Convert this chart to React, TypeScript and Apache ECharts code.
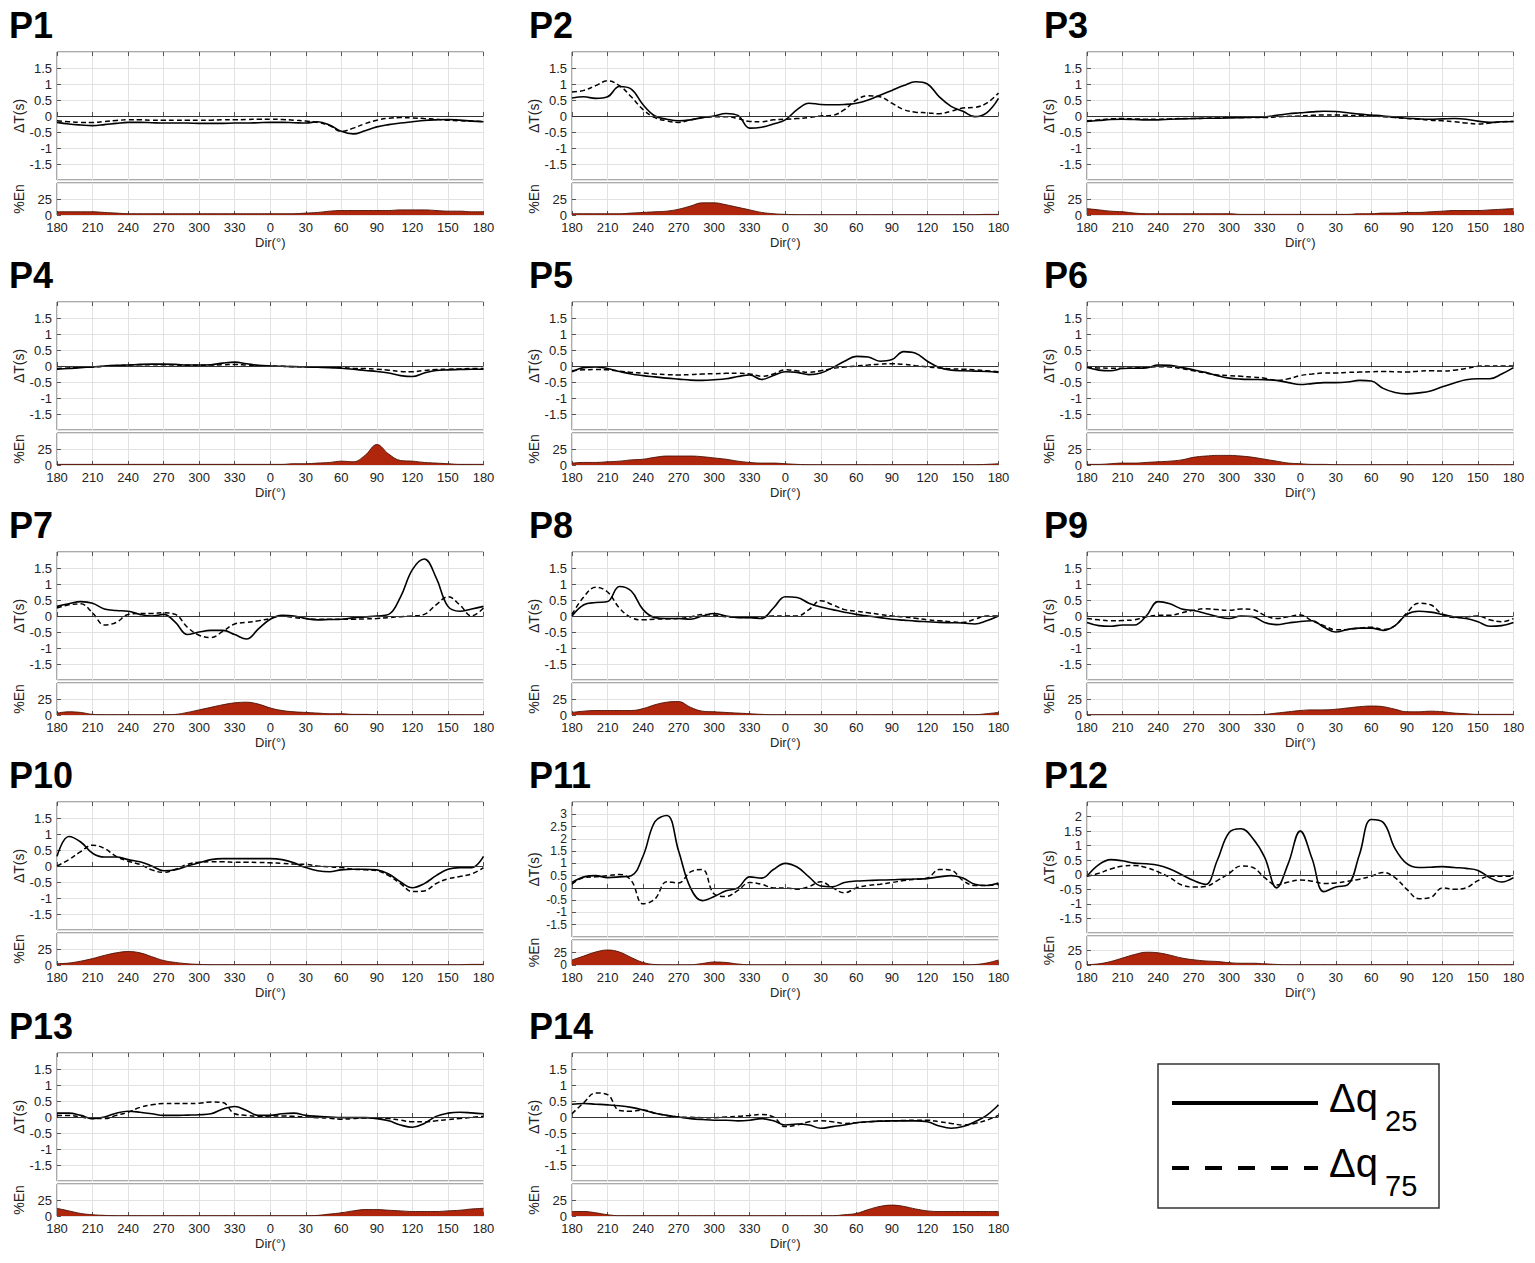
import { useEffect, useRef } from "react";
import * as echarts from "echarts";

// x positions: degrees counted from the 180° start of each panel (sample every 10°)
const OFFSETS = [
  0, 10, 20, 30, 40, 50, 60, 70, 80, 90, 100, 110, 120, 130, 140, 150, 160, 170,
  180, 190, 200, 210, 220, 230, 240, 250, 260, 270, 280, 290, 300, 310, 320, 330,
  340, 350, 360,
];
const DIR_TICKS = ["180", "210", "240", "270", "300", "330", "0", "30", "60", "90", "120", "150", "180"];

// dir: 180 190 200 ... 350 0 10 ... 180
const P1_Q25 = [-0.2,-0.25,-0.28,-0.3,-0.27,-0.23,-0.2,-0.2,-0.21,-0.22,-0.22,-0.22,-0.23,-0.23,-0.23,-0.22,-0.22,-0.21,-0.2,-0.2,-0.21,-0.22,-0.18,-0.28,-0.48,-0.56,-0.46,-0.34,-0.27,-0.22,-0.18,-0.14,-0.12,-0.11,-0.13,-0.16,-0.18];
const P1_Q75 = [-0.15,-0.18,-0.2,-0.2,-0.17,-0.14,-0.12,-0.12,-0.13,-0.13,-0.13,-0.13,-0.13,-0.13,-0.12,-0.12,-0.11,-0.1,-0.1,-0.11,-0.13,-0.16,-0.2,-0.3,-0.48,-0.38,-0.24,-0.13,-0.07,-0.05,-0.06,-0.08,-0.1,-0.13,-0.15,-0.16,-0.17];
const P1_EN = [5,5,5,5,4,3,2,2,2,2,2,2,2,2,2,2,2,2,2,2,2,3,4,6,7,7,7,7,7,8,8,8,7,6,6,5,5];

const P2_Q25 = [0.56,0.6,0.55,0.6,0.92,0.84,0.35,0.0,-0.1,-0.15,-0.12,-0.05,0.0,0.08,0.02,-0.38,-0.35,-0.25,-0.12,0.2,0.4,0.36,0.35,0.36,0.4,0.5,0.65,0.8,0.95,1.07,1.0,0.6,0.3,0.15,-0.02,0.1,0.55];
const P2_Q75 = [0.75,0.8,0.95,1.1,0.95,0.6,0.2,-0.05,-0.15,-0.2,-0.12,-0.05,-0.02,-0.02,-0.08,-0.17,-0.18,-0.12,-0.1,-0.08,-0.05,0.0,0.02,0.2,0.5,0.63,0.6,0.4,0.2,0.12,0.1,0.07,0.15,0.25,0.27,0.4,0.72];
const P2_EN = [2,2,2,2,2,3,4,5,6,9,14,19,19,16,12,8,4,2,1,0.5,0.5,0.5,0.5,0.5,0.5,0.5,0.5,0.5,0.5,0.5,0.5,0.5,0.5,0.5,0.5,1,1];

const P3_Q25 = [-0.17,-0.14,-0.11,-0.1,-0.11,-0.12,-0.12,-0.1,-0.09,-0.08,-0.07,-0.07,-0.06,-0.05,-0.04,-0.03,0.02,0.07,0.1,0.13,0.15,0.14,0.1,0.06,0.03,0.0,-0.04,-0.07,-0.09,-0.1,-0.09,-0.08,-0.1,-0.16,-0.2,-0.18,-0.17];
const P3_Q75 = [-0.15,-0.12,-0.09,-0.08,-0.09,-0.1,-0.1,-0.09,-0.08,-0.08,-0.07,-0.06,-0.05,-0.05,-0.05,-0.05,-0.03,-0.01,0.0,0.02,0.03,0.03,0.02,0.01,0.0,-0.02,-0.05,-0.08,-0.1,-0.13,-0.15,-0.18,-0.22,-0.25,-0.22,-0.18,-0.17];
const P3_EN = [10,8,6,5,3,2,2,2,2,2,2,2,2,1,1,1,1,1,1,1,1,1,1,2,2,3,3,4,4,5,6,7,7,7,8,9,10];

const P4_Q25 = [-0.1,-0.08,-0.05,-0.03,0.0,0.02,0.03,0.05,0.06,0.06,0.05,0.03,0.03,0.04,0.09,0.12,0.07,0.02,0.0,-0.01,-0.02,-0.03,-0.04,-0.05,-0.07,-0.1,-0.14,-0.17,-0.22,-0.3,-0.33,-0.22,-0.14,-0.12,-0.11,-0.1,-0.1];
const P4_Q75 = [-0.08,-0.06,-0.04,-0.03,-0.01,0.01,0.03,0.04,0.04,0.04,0.03,0.02,0.02,0.03,0.04,0.05,0.03,0.01,0.0,-0.01,-0.02,-0.02,-0.03,-0.04,-0.05,-0.07,-0.08,-0.1,-0.13,-0.17,-0.18,-0.14,-0.11,-0.1,-0.09,-0.08,-0.08];
const P4_EN = [1,1,1,1,1,1,1,1,1,1,1,1,1,1,1,1,1,1,1,1,2,2,3,4,6,5,15,32,17,7,6,4,3,2,1,1,1];

const P5_Q25 = [-0.18,-0.05,-0.03,-0.08,-0.17,-0.25,-0.3,-0.34,-0.38,-0.41,-0.44,-0.45,-0.43,-0.4,-0.33,-0.28,-0.42,-0.3,-0.18,-0.2,-0.27,-0.22,-0.05,0.15,0.3,0.28,0.15,0.2,0.45,0.4,0.15,-0.05,-0.13,-0.15,-0.16,-0.17,-0.2];
const P5_Q75 = [-0.15,-0.12,-0.11,-0.12,-0.16,-0.2,-0.22,-0.25,-0.27,-0.28,-0.27,-0.25,-0.24,-0.23,-0.23,-0.25,-0.32,-0.25,-0.12,-0.15,-0.2,-0.15,-0.08,-0.03,0.0,0.03,0.06,0.07,0.05,0.01,-0.03,-0.06,-0.09,-0.1,-0.12,-0.15,-0.18];
const P5_EN = [3,4,4,5,6,8,9,12,14,14,14,13,11,9,6,4,3,3,2,1,0.5,0.5,0.5,0.5,0.5,0.5,0.5,0.5,0.5,0.5,0.5,0.5,0.5,0.5,0.5,1,2];

const P6_Q25 = [-0.05,-0.13,-0.15,-0.08,-0.07,-0.06,0.03,0.02,-0.05,-0.12,-0.2,-0.3,-0.38,-0.41,-0.42,-0.43,-0.45,-0.52,-0.58,-0.55,-0.52,-0.52,-0.5,-0.45,-0.47,-0.7,-0.83,-0.87,-0.84,-0.78,-0.65,-0.53,-0.43,-0.4,-0.4,-0.25,-0.05];
const P6_Q75 = [-0.03,-0.06,-0.07,-0.07,-0.06,-0.04,-0.02,-0.03,-0.08,-0.15,-0.22,-0.28,-0.3,-0.32,-0.35,-0.38,-0.45,-0.4,-0.3,-0.25,-0.22,-0.22,-0.2,-0.19,-0.18,-0.17,-0.18,-0.19,-0.16,-0.15,-0.16,-0.13,-0.08,-0.01,0.0,0.0,0.0];
const P6_EN = [1,1,2,3,3,4,5,6,8,12,14,15,15,14,12,9,6,3,2,1,1,0.5,0.5,0.5,0.5,0.5,0.5,0.5,0.5,0.5,0.5,0.5,0.5,0.5,0.5,0.5,0.5];

const P7_Q25 = [0.3,0.38,0.45,0.4,0.22,0.17,0.15,0.05,0.0,0.05,-0.2,-0.58,-0.5,-0.45,-0.45,-0.58,-0.72,-0.4,-0.1,0.02,0.0,-0.08,-0.12,-0.11,-0.1,-0.06,-0.03,0.0,0.05,0.6,1.45,1.78,1.2,0.3,0.15,0.22,0.3];
const P7_Q75 = [0.25,0.35,0.38,0.1,-0.28,-0.2,0.05,0.08,0.08,0.1,0.05,-0.35,-0.6,-0.67,-0.48,-0.25,-0.2,-0.15,-0.08,0.0,-0.05,-0.08,-0.1,-0.1,-0.1,-0.1,-0.09,-0.08,-0.05,-0.02,0.0,0.05,0.35,0.6,0.35,0.0,0.25];
const P7_EN = [3,5,4,1,0.5,0.5,0.5,0.5,0.5,0.5,1,4,8,12,16,19,20,17,11,7,5,4,3,2,2,1,1,0.5,0.5,0.5,0.5,0.5,0.5,0.5,0.5,0.5,0.5];

const P8_Q25 = [0.0,0.35,0.42,0.45,0.92,0.78,0.2,-0.05,-0.08,-0.08,-0.1,0.0,0.08,0.0,-0.05,-0.05,-0.08,0.25,0.6,0.58,0.4,0.28,0.2,0.12,0.05,0.0,-0.05,-0.1,-0.13,-0.16,-0.18,-0.2,-0.21,-0.22,-0.25,-0.15,0.0];
const P8_Q75 = [0.05,0.6,0.9,0.75,0.25,-0.05,-0.12,-0.1,-0.09,-0.08,-0.03,0.05,0.03,-0.02,-0.04,-0.05,-0.03,0.0,0.0,0.0,0.2,0.48,0.35,0.2,0.15,0.1,0.05,0.0,-0.03,-0.07,-0.12,-0.15,-0.18,-0.2,-0.1,0.0,0.0];
const P8_EN = [4,6,7,7,7,7,10,16,20,21,12,6,5,4,3,2,1,0.5,0.5,0.5,0.5,0.5,0.5,0.5,0.5,0.5,0.5,0.5,0.5,0.5,0.5,0.5,0.5,0.5,0.5,2,4];

const P9_Q25 = [-0.2,-0.3,-0.32,-0.28,-0.28,0.0,0.45,0.38,0.22,0.17,0.08,-0.02,-0.08,0.0,-0.02,-0.2,-0.27,-0.22,-0.17,-0.15,-0.35,-0.5,-0.42,-0.38,-0.38,-0.45,-0.3,0.05,0.15,0.12,0.05,-0.03,-0.08,-0.18,-0.32,-0.3,-0.2];
const P9_Q75 = [-0.08,-0.12,-0.15,-0.14,-0.12,-0.02,0.02,0.02,0.1,0.18,0.23,0.2,0.18,0.22,0.2,0.02,-0.08,-0.02,0.03,-0.15,-0.3,-0.43,-0.42,-0.38,-0.35,-0.42,-0.3,0.1,0.4,0.35,0.05,-0.05,-0.03,0.0,-0.12,-0.18,-0.08];
const P9_EN = [0.5,0.5,0.5,0.5,0.5,0.5,0.5,0.5,0.5,0.5,0.5,0.5,0.5,0.5,0.5,1,3,5,7,8,8,9,11,13,14,13,9,5,5,6,5,3,2,1,1,1,1];

const P10_Q25 = [0.3,0.92,0.75,0.4,0.28,0.28,0.2,0.13,0.0,-0.15,-0.12,0.0,0.1,0.2,0.23,0.23,0.23,0.23,0.23,0.2,0.1,-0.05,-0.15,-0.18,-0.12,-0.1,-0.1,-0.12,-0.25,-0.5,-0.68,-0.55,-0.3,-0.1,-0.05,-0.05,0.3];
const P10_Q75 = [0.0,0.2,0.45,0.65,0.55,0.3,0.15,0.05,-0.12,-0.2,-0.1,0.05,0.12,0.13,0.13,0.12,0.12,0.11,0.1,0.08,0.06,0.05,0.0,-0.03,-0.05,-0.1,-0.12,-0.15,-0.3,-0.55,-0.8,-0.78,-0.55,-0.4,-0.33,-0.25,-0.05];
const P10_EN = [2,3,6,10,15,19,21,19,13,7,4,2,1,0.5,0.5,0.5,0.5,0.5,0.5,0.5,0.5,0.5,0.5,0.5,0.5,0.5,0.5,0.5,0.5,0.5,0.5,0.5,0.5,0.5,0.5,1,1];

const P11_Q25 = [0.22,0.45,0.5,0.42,0.45,0.5,1.3,2.7,2.95,1.5,0.0,-0.52,-0.35,-0.12,0.0,0.45,0.4,0.75,1.0,0.85,0.45,0.08,0.05,0.22,0.28,0.3,0.32,0.33,0.35,0.36,0.38,0.45,0.5,0.4,0.15,0.1,0.2];
const P11_Q75 = [0.15,0.42,0.45,0.5,0.55,0.3,-0.65,-0.45,0.25,0.2,0.65,0.75,-0.25,-0.35,-0.1,0.22,0.15,0.0,0.0,-0.05,0.05,0.25,0.0,-0.2,0.0,0.1,0.15,0.22,0.3,0.35,0.4,0.75,0.72,0.3,0.1,0.1,0.15];
const P11_EN = [10,18,26,30,26,15,5,1,0.5,0.5,0.5,3,6,5,2,0.5,0.5,0.5,0.5,0.5,0.5,0.5,0.5,0.5,0.5,0.5,0.5,0.5,0.5,0.5,0.5,0.5,0.5,0.5,1,4,10];

const P12_Q25 = [-0.05,0.35,0.52,0.48,0.4,0.38,0.33,0.2,0.0,-0.2,-0.33,0.5,1.45,1.58,1.25,0.6,-0.45,0.4,1.5,0.55,-0.58,-0.42,-0.35,0.7,1.9,1.8,0.9,0.38,0.25,0.26,0.28,0.25,0.22,0.15,-0.1,-0.25,-0.1];
const P12_Q75 = [-0.05,0.05,0.2,0.3,0.32,0.25,0.1,-0.1,-0.35,-0.42,-0.4,-0.2,0.05,0.3,0.25,-0.1,-0.35,-0.25,-0.18,-0.22,-0.3,-0.28,-0.22,-0.15,-0.05,0.08,-0.1,-0.5,-0.82,-0.78,-0.45,-0.5,-0.45,-0.2,-0.05,-0.05,-0.05];
const P12_EN = [0.5,2,6,12,18,22,21,17,12,9,7,6,4,3,3,2,1,0.5,0.5,0.5,0.5,0.5,0.5,0.5,0.5,0.5,0.5,0.5,0.5,0.5,0.5,0.5,0.5,0.5,0.5,0.5,0.5];

const P13_Q25 = [0.12,0.12,0.05,-0.05,0.0,0.12,0.18,0.15,0.1,0.05,0.05,0.06,0.07,0.1,0.25,0.33,0.2,0.05,0.05,0.1,0.12,0.05,0.02,0.0,-0.02,-0.02,-0.02,-0.05,-0.12,-0.25,-0.32,-0.2,0.02,0.12,0.15,0.13,0.1];
const P13_Q75 = [0.05,0.05,0.0,-0.05,-0.05,0.05,0.15,0.3,0.38,0.42,0.42,0.42,0.43,0.47,0.45,0.1,0.05,0.02,0.03,0.03,0.02,0.0,-0.02,-0.04,-0.07,-0.05,-0.03,-0.03,-0.05,-0.1,-0.15,-0.15,-0.12,-0.08,-0.05,-0.01,0.02];
const P13_EN = [12,8,4,2,1,0.5,0.5,0.5,0.5,0.5,0.5,0.5,0.5,0.5,0.5,0.5,0.5,0.5,0.5,0.5,0.5,0.5,1,3,5,8,10,10,9,8,7,7,7,8,9,11,12];

const P14_Q25 = [0.4,0.42,0.4,0.38,0.35,0.3,0.22,0.12,0.05,0.0,-0.05,-0.08,-0.1,-0.1,-0.12,-0.1,-0.05,-0.12,-0.25,-0.22,-0.25,-0.35,-0.3,-0.25,-0.18,-0.15,-0.13,-0.12,-0.12,-0.12,-0.15,-0.28,-0.35,-0.3,-0.15,0.05,0.38];
const P14_Q75 = [0.1,0.45,0.75,0.7,0.2,0.18,0.22,0.12,0.05,0.0,-0.01,-0.02,-0.02,0.0,0.02,0.05,0.08,0.0,-0.3,-0.25,-0.15,-0.12,-0.15,-0.2,-0.18,-0.15,-0.13,-0.12,-0.11,-0.1,-0.1,-0.15,-0.2,-0.25,-0.2,-0.1,0.05];
const P14_EN = [7,7,5,2,0.5,0.5,0.5,0.5,0.5,0.5,0.5,0.5,0.5,0.5,0.5,0.5,0.5,0.5,0.5,0.5,0.5,0.5,0.5,2,4,10,15,17,15,11,8,7,7,7,7,7,7];

const PANELS = [
  { name: "P1", q25: P1_Q25, q75: P1_Q75, en: P1_EN, dtMax: 2 },
  { name: "P2", q25: P2_Q25, q75: P2_Q75, en: P2_EN, dtMax: 2 },
  { name: "P3", q25: P3_Q25, q75: P3_Q75, en: P3_EN, dtMax: 2 },
  { name: "P4", q25: P4_Q25, q75: P4_Q75, en: P4_EN, dtMax: 2 },
  { name: "P5", q25: P5_Q25, q75: P5_Q75, en: P5_EN, dtMax: 2 },
  { name: "P6", q25: P6_Q25, q75: P6_Q75, en: P6_EN, dtMax: 2 },
  { name: "P7", q25: P7_Q25, q75: P7_Q75, en: P7_EN, dtMax: 2 },
  { name: "P8", q25: P8_Q25, q75: P8_Q75, en: P8_EN, dtMax: 2 },
  { name: "P9", q25: P9_Q25, q75: P9_Q75, en: P9_EN, dtMax: 2 },
  { name: "P10", q25: P10_Q25, q75: P10_Q75, en: P10_EN, dtMax: 2 },
  { name: "P11", q25: P11_Q25, q75: P11_Q75, en: P11_EN, dtMax: 3.5 },
  { name: "P12", q25: P12_Q25, q75: P12_Q75, en: P12_EN, dtMax: 2.5 },
  { name: "P13", q25: P13_Q25, q75: P13_Q75, en: P13_EN, dtMax: 2 },
  { name: "P14", q25: P14_Q25, q75: P14_Q75, en: P14_EN, dtMax: 2 },
];

const FONT = '"Liberation Sans", Arial, Helvetica, sans-serif';
const COL_LEFT = [57, 572, 1087];
const TITLE_X = [9, 529, 1044];
const ROW_TOP = [52, 302, 552, 802, 1053];
const PLOT_W = 426.5;
const GAP = 3;
const BLOCK_H = 163;
const LOWER_H: Record<string, number> = { P11: 25, P12: 29 };

const GRID_COLOR = "#e2e2e2";
const BOX_COLOR = "#555";
const TEXT_COLOR = "#222";
const EN_FILL = "#b0260c";

function buildOption() {
  const grid: any[] = [];
  const xAxis: any[] = [];
  const yAxis: any[] = [];
  const series: any[] = [];
  const graphic: any[] = [];

  const tickStyle = { show: true, inside: true, length: 4, lineStyle: { color: BOX_COLOR, width: 1 } };
  const labelStyle = { fontSize: 13, color: TEXT_COLOR, fontFamily: FONT };
  const nameStyle = { fontSize: 14, color: TEXT_COLOR, fontFamily: FONT };

  PANELS.forEach((p, i) => {
    const col = i % 3;
    const row = Math.floor(i / 3);
    const left = COL_LEFT[col];
    const top = ROW_TOP[row];
    const lowerH = LOWER_H[p.name] ?? 32;
    const upperH = BLOCK_H - GAP - lowerH;
    const gu = i * 2;
    const gl = i * 2 + 1;
    // tighter tick spacing on the tall-range panel needs smaller labels
    const yLabelSize = lowerH < 28 ? 12 : 13;

    grid.push(
      { left, top, width: PLOT_W, height: upperH, show: true, borderColor: BOX_COLOR, borderWidth: 1, backgroundColor: "#fff" },
      { left, top: top + upperH + GAP, width: PLOT_W, height: lowerH, show: true, borderColor: BOX_COLOR, borderWidth: 1, backgroundColor: "#fff" }
    );

    const xBase = {
      type: "value",
      min: 0,
      max: 360,
      interval: 30,
      axisLine: { show: false },
      axisTick: tickStyle,
    };
    xAxis.push(
      {
        ...xBase,
        gridIndex: gu,
        axisLabel: { show: false },
        splitLine: { show: true, lineStyle: { color: GRID_COLOR, width: 1 } },
      },
      {
        ...xBase,
        gridIndex: gl,
        splitLine: { show: true, lineStyle: { color: GRID_COLOR, width: 1 } },
        axisLabel: {
          ...labelStyle,
          margin: 6,
          formatter: (v: number) => DIR_TICKS[Math.round(v / 30)] ?? "",
        },
        name: "Dir(°)",
        nameLocation: "middle",
        nameGap: 21,
        nameTextStyle: labelStyle,
      },
      // top-edge ticks of the ΔT box
      {
        ...xBase,
        gridIndex: gu,
        position: "top",
        axisLabel: { show: false },
        splitLine: { show: false },
      }
    );

    yAxis.push(
      {
        type: "value",
        gridIndex: gu,
        min: -2,
        max: p.dtMax,
        interval: 0.5,
        axisLine: { show: false },
        axisTick: tickStyle,
        axisLabel: { ...labelStyle, fontSize: yLabelSize, margin: 5, showMinLabel: false, showMaxLabel: false },
        splitLine: { show: true, lineStyle: { color: GRID_COLOR, width: 1 } },
        name: "ΔT(s)",
        nameLocation: "middle",
        nameGap: 31,
        nameTextStyle: nameStyle,
      },
      {
        type: "value",
        gridIndex: gl,
        min: 0,
        max: 50,
        interval: 25,
        axisLine: { show: false },
        axisTick: tickStyle,
        axisLabel: { ...labelStyle, fontSize: yLabelSize, margin: 5, showMaxLabel: false },
        splitLine: { show: true, lineStyle: { color: GRID_COLOR, width: 1 } },
        name: "%En",
        nameLocation: "middle",
        nameGap: 31,
        nameTextStyle: nameStyle,
      }
    );

    const pts = (vals: number[]) => OFFSETS.map((x, k) => [x, vals[k]]);
    const xu = i * 3;
    const xl = i * 3 + 1;

    series.push(
      {
        type: "line",
        name: "Δq25",
        xAxisIndex: xu,
        yAxisIndex: gu,
        data: pts(p.q25),
        smooth: 0.4,
        symbol: "none",
        lineStyle: { color: "#000", width: 1.6 },
        z: 4,
        markLine: {
          silent: true,
          symbol: ["none", "none"],
          label: { show: false },
          lineStyle: { color: "#333", width: 1.1, type: "solid" },
          data: [{ yAxis: 0 }],
        },
      },
      {
        type: "line",
        name: "Δq75",
        xAxisIndex: xu,
        yAxisIndex: gu,
        data: pts(p.q75),
        smooth: 0.4,
        symbol: "none",
        lineStyle: { color: "#000", width: 1.5, type: [5, 3] },
        z: 4,
      },
      {
        type: "line",
        name: "%En",
        xAxisIndex: xl,
        yAxisIndex: gl,
        data: pts(p.en),
        smooth: 0.4,
        symbol: "none",
        lineStyle: { color: "#4a1206", width: 0.9 },
        areaStyle: { color: EN_FILL, opacity: 1 },
        z: 3,
      }
    );

    graphic.push({
      type: "text",
      x: TITLE_X[col],
      y: top - 26.5,
      style: {
        text: p.name,
        font: `bold 36px ${FONT}`,
        fill: "#000",
        align: "left",
        verticalAlign: "middle",
      },
    });
  });

  // legend box
  graphic.push(
    { type: "rect", shape: { x: 1158, y: 1064, width: 281, height: 144 }, style: { fill: "#fff", stroke: "#333", lineWidth: 1.5 } },
    { type: "line", shape: { x1: 1172, y1: 1103, x2: 1318, y2: 1103 }, style: { stroke: "#000", lineWidth: 4 } },
    { type: "line", shape: { x1: 1172, y1: 1168, x2: 1318, y2: 1168 }, style: { stroke: "#000", lineWidth: 4, lineDash: [17, 16] } },
    { type: "text", x: 1329, y: 1098, style: { text: "Δq", font: `40px ${FONT}`, fill: "#000", verticalAlign: "middle" } },
    { type: "text", x: 1385, y: 1121, style: { text: "25", font: `29px ${FONT}`, fill: "#000", verticalAlign: "middle" } },
    { type: "text", x: 1329, y: 1163, style: { text: "Δq", font: `40px ${FONT}`, fill: "#000", verticalAlign: "middle" } },
    { type: "text", x: 1385, y: 1186, style: { text: "75", font: `29px ${FONT}`, fill: "#000", verticalAlign: "middle" } }
  );

  return {
    animation: false,
    backgroundColor: "#fff",
    textStyle: { fontFamily: FONT },
    grid,
    xAxis,
    yAxis,
    series,
    graphic,
  };
}

export default function App() {
  const ref = useRef<HTMLDivElement>(null);

  useEffect(() => {
    if (!ref.current) return;
    const chart = echarts.init(ref.current, undefined, { renderer: "svg" });
    chart.setOption(buildOption());
    return () => chart.dispose();
  }, []);

  return (
    <div
      ref={ref}
      style={{ position: "absolute", left: 0, top: 0, width: 1535, height: 1263, background: "#fff" }}
    />
  );
}
